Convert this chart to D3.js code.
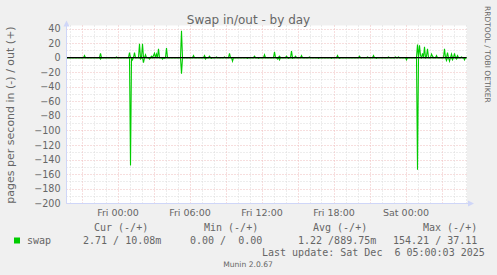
<!DOCTYPE html>
<html>
<head>
<meta charset="utf-8">
<script src="https://cdn.jsdelivr.net/npm/d3@7"></script>
<style>
body { margin: 0; background: #f0f0f0; }
svg { display: block; }
text { font-family: "DejaVu Sans", sans-serif; fill: #666; }
.mono { font-family: "DejaVu Sans Mono", monospace; font-size: 10px; white-space: pre; }
</style>
</head>
<body>
<svg id="chart" width="497" height="275"></svg>
<script>
/**
 * DATA
 * times are minutes from Fri 00:00, one sample every 5 minutes
 * samples not listed sit flat on zero in the graph
 */
var outMinutes = [-165, -85, -5, 60, 85, 110, 125, 140, 170, 180, 185, 195, 205, 245, 320, 380, 435, 460, 495, 535, 560,
    685, 735, 785, 810, 845, 870, 890, 920, 960, 1100, 1210, 1250, 1280, 1355, 1390, 1405,
    1500, 1510, 1515, 1525, 1535, 1545, 1550, 1570, 1575, 1595, 1635, 1650, 1670, 1685, 1700, 1720];
var outValues = [3, 6, 1, 7, 7, 19, 19, 4, 2, 3, 6, 5, 12, 13, 37, 3, 3, 2, 1, 1, 6,
    2, 4, 8, 2, 2, 9, 2, 3, 1, 3, 2, 1, 3, 1, 1, 1,
    18, 17, 3, 6, 15, 2, 12, 5, 2, 3, 12, 7, 5, 6, 3, 1];

var inMinutes = [-85, 65, 75, 115, 130, 160, 225, 235, 320, 440, 470, 575, 650, 705, 800, 810, 855, 875,
    1005, 1070, 1110, 1295, 1445, 1500, 1645, 1660, 1675, 1695, 1735];
var inValues = [2, 148, 3, 2, 7, 2, 2, 1, 22, 2, 1, 5, 1, 1, 2, 3, 1, 1,
    1, 1, 1, 1, 3, 154, 4, 5, 3, 2, 3];

var yTickValues = [40, 20, 0, -20, -40, -60, -80, -100, -120, -140, -160, -180, -200];
var xTickHours = [0, 6, 12, 18, 24];
var xTickLabels = ["Fri 00:00", "Fri 06:00", "Fri 12:00", "Fri 18:00", "Sat 00:00"];

var seriesName = "swap";
var legendHeads = ["Cur (-/+)", "Min (-/+)", "Avg (-/+)", "Max (-/+)"];
var legendValues = ["2.71 / 10.08m", "0.00 /  0.00", "1.22 /889.75m", "154.21 / 37.11"];
var lastUpdate = "Last update: Sat Dec  6 05:00:03 2025";

var SWAP_COLOR = "#00cc00";
var START_MIN = -255, END_MIN = 1745;   // Thu 19:45 .. Sat 05:05
var fri0 = new Date(2025, 11, 5, 0, 0, 0);
function at(min) { return new Date(fri0.getTime() + min * 60000); }

var svg = d3.select("#chart");

var xScale = d3.scaleTime()
    .domain([at(START_MIN), at(END_MIN)])
    .range([66.5, 466.5]);
var yScale = d3.scaleLinear()
    .domain([-200, 40])
    .range([203.3, 28.5]);

// build the 5 minute series
function buildSeries(mins, vals, sign) {
    var lookup = new Map();
    mins.forEach(function(m, i) { lookup.set(m, vals[i]); });
    return d3.range(START_MIN, END_MIN + 1, 5).map(function(m) {
        return { t: at(m), v: sign * (lookup.get(m) || 0) };
    });
}

// canvas
svg.append("rect")
    .attr("x", 66.5).attr("y", 25.5)
    .attr("width", 400.5).attr("height", 178)
    .attr("fill", "#ffffff");

var MAJOR = "#efbcbc", MINOR = "#dadada";

// horizontal grid
d3.range(-200, 41, 10).forEach(function(v) {
    var major = v % 20 === 0;
    svg.append("line")
        .attr("x1", 66.5).attr("x2", 466.5)
        .attr("y1", Math.round(yScale(v)) + 0.5).attr("y2", Math.round(yScale(v)) + 0.5)
        .attr("stroke", major ? MAJOR : MINOR)
        .attr("stroke-dasharray", "1,2");
});

// vertical grid, one per hour, red every 3 hours
d3.range(-240, 1741, 60).forEach(function(m) {
    var major = ((m / 60) % 3 + 3) % 3 === 0;
    var x = Math.round(xScale(at(m))) + 0.5;
    svg.append("line")
        .attr("x1", x).attr("x2", x)
        .attr("y1", 25.5).attr("y2", 205.5)
        .attr("stroke", major ? MAJOR : MINOR)
        .attr("stroke-dasharray", "1,2");
});

// swap in / out lines
var drawLine = d3.line()
    .x(function(d) { return xScale(d.t); })
    .y(function(d) { return yScale(d.v); })
    .curve(d3.curveLinear);

[buildSeries(outMinutes, outValues, 1), buildSeries(inMinutes, inValues, -1)].forEach(function(series) {
    svg.append("path")
        .attr("d", drawLine(series))
        .attr("fill", "none")
        .attr("stroke", SWAP_COLOR)
        .attr("stroke-width", 1.1);
});

// zero line
svg.append("line")
    .attr("x1", 66.5).attr("x2", 466.5)
    .attr("y1", yScale(0)).attr("y2", yScale(0))
    .attr("stroke", "#000")
    .attr("stroke-width", 1.3);

// axes
var AXIS = "#cfd6f8";
svg.append("line").attr("x1", 66.5).attr("x2", 66.5).attr("y1", 203.5).attr("y2", 24)
    .attr("stroke", AXIS);
svg.append("line").attr("x1", 66.5).attr("x2", 469).attr("y1", 203.5).attr("y2", 203.5)
    .attr("stroke", AXIS);
svg.append("path").attr("d", "M63.5,26.5L66.5,20.5L69.5,26.5Z").attr("fill", AXIS);
svg.append("path").attr("d", "M468,200.5L474,203.5L468,206.5Z").attr("fill", AXIS);

svg.append("g")
    .attr("transform", "translate(60.5,0)")
    .call(d3.axisLeft(yScale).tickValues(yTickValues).tickSize(0).tickPadding(0))
    .call(function(g) { g.select(".domain").remove(); })
    .selectAll("text")
    .style("font-family", "DejaVu Sans")
    .style("font-size", "9.6px")
    .attr("fill", "#666");

svg.append("g")
    .attr("transform", "translate(0,209.5)")
    .call(d3.axisBottom(xScale)
        .tickValues(xTickHours.map(function(h) { return at(h * 60); }))
        .tickFormat(function(d, i) { return xTickLabels[i]; })
        .tickSize(0).tickPadding(0))
    .call(function(g) { g.select(".domain").remove(); })
    .selectAll("text")
    .style("font-family", "DejaVu Sans")
    .style("font-size", "9.5px")
    .attr("fill", "#666");

// titles
svg.append("text")
    .attr("x", 248.5).attr("y", 24)
    .attr("text-anchor", "middle")
    .style("font-size", "12px")
    .attr("fill", "#555")
    .text("Swap in/out - by day");

svg.append("text")
    .attr("transform", "translate(13.5,115) rotate(-90)")
    .attr("text-anchor", "middle")
    .style("font-size", "11px")
    .text("pages per second in (-) / out (+)");

svg.append("text")
    .attr("transform", "translate(485,6) rotate(90)")
    .style("font-size", "7.5px")
    .attr("fill", "#c4c4c4")
    .text("RRDTOOL / TOBI OETIKER");

// legend
var headX = [94, 204, 313, 423];
var valX = [83, 190, 298, 393];
legendHeads.forEach(function(h, i) {
    svg.append("text").attr("class", "mono")
        .attr("x", headX[i]).attr("y", 230.5).text(h);
});
legendValues.forEach(function(v, i) {
    svg.append("text").attr("class", "mono")
        .attr("x", valX[i]).attr("y", 243.8).text(v);
});
svg.append("rect")
    .attr("x", 14).attr("y", 237.5)
    .attr("width", 6).attr("height", 6)
    .attr("fill", SWAP_COLOR);
svg.append("text").attr("class", "mono")
    .attr("x", 27).attr("y", 243.8).text(seriesName);
svg.append("text").attr("class", "mono")
    .attr("x", 262).attr("y", 255.8).text(lastUpdate);

svg.append("text")
    .attr("x", 248).attr("y", 267)
    .attr("text-anchor", "middle")
    .style("font-size", "7.6px")
    .attr("fill", "#c8c8c8")
    .text("Munin 2.0.67");
</script>
</body>
</html>
